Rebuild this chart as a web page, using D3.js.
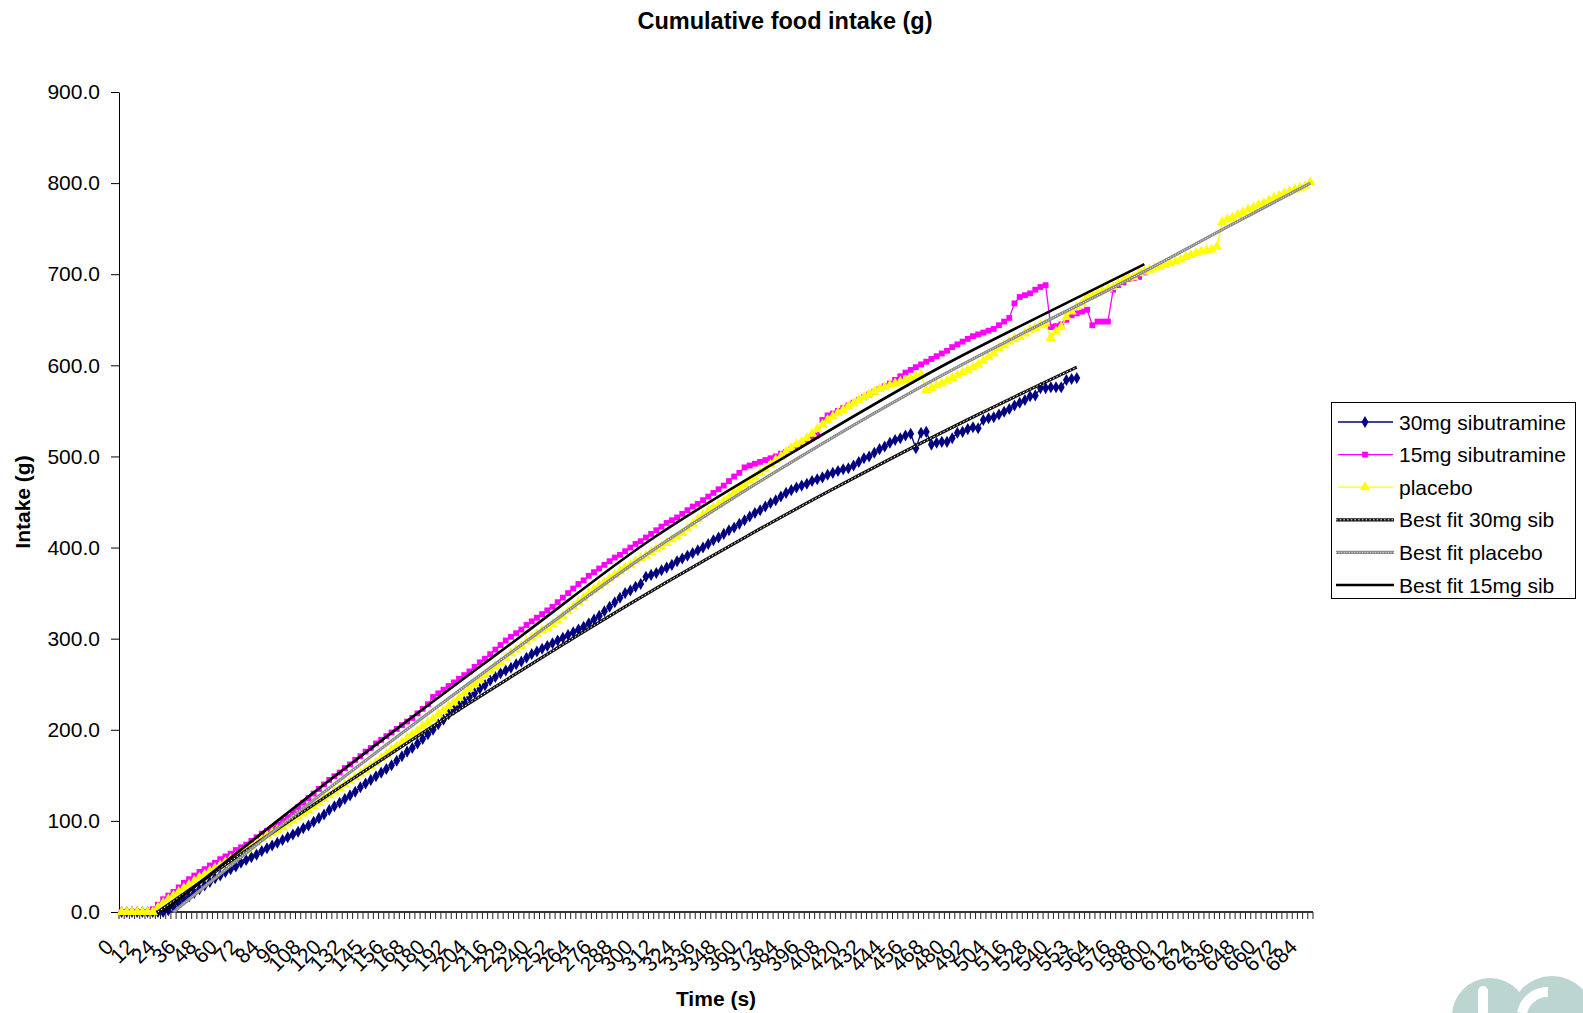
<!DOCTYPE html>
<html>
<head>
<meta charset="utf-8">
<script src="https://cdn.jsdelivr.net/npm/d3@7"></script>
<style>
  body { margin: 0; background: #fff; }
  svg { display: block; font-family: "Liberation Sans", Arial, sans-serif; }
</style>
</head>
<body>
<div id="chart"></div>
<script>
// time in seconds for every category of the x axis
const times = [
  0,3,6,9,12,15,18,21,24,27, 30,33,36,39,42,45,48,51,54,57,
  60,63,66,69,72,75,78,81,84,87, 90,93,96,99,102,105,108,111,114,117,
  120,123,126,129,132,135,138,141,145,147, 150,153,156,159,162,165,168,171,174,177,
  180,183,186,189,192,195,198,201,204,207, 210,213,216,219,222,225,229,231,234,237,
  240,243,246,249,252,255,258,261,264,267, 270,273,276,279,282,285,288,291,294,297,
  300,303,306,309,312,315,318,321,324,327, 330,333,336,339,342,345,348,351,354,357,
  360,363,366,369,372,375,378,381,384,387, 390,393,396,399,402,405,408,411,414,417,
  420,423,426,429,432,435,438,441,444,447, 450,453,456,459,462,465,468,471,474,477,
  480,483,486,489,492,495,498,501,504,507, 510,513,516,519,522,525,528,531,534,537,
  540,543,546,549,553,555,558,561,564,567, 570,573,576,579,582,585,588,591,594,597,
  600,603,606,609,612,615,618,621,624,627, 630,633,636,639,642,645,648,651,654,657,
  660,663,666,669,672,675,678,681,684,687
];
const labelEvery = 4;
const yTicks = [0, 100, 200, 300, 400, 500, 600, 700, 800, 900];

// cumulative intake (g), one value per category
const sib30 = [
  0,0,0,0,0,0,0,0,0,2, 6,10,14,17,21,25,29,33,37,40,
  44,47,50,54,57,60,63,67,70,73, 76,79,82,85,88,92,95,99,103,107,
  112,116,120,124,128,132,137,141,145,149, 153,157,161,166,171,176,180,185,190,195,
  200,206,211,217,222,226,231,236,240,245, 249,254,258,262,265,268,272,275,279,283,
  286,289,292,295,298,301,304,307,310,313, 317,321,325,330,335,340,345,350,353,357,
  360,368,370,372,375,378,381,385,388,391, 394,397,400,404,408,411,415,419,422,426,
  430,434,438,441,445,449,452,456,460,463, 466,468,470,473,475,477,480,482,484,486,
  487,490,494,498,500,504,508,511,515,518, 520,523,525,509,526,527,513,515,516,516,
  520,526,527,530,532,531,540,542,543,546, 549,552,556,559,562,566,567,575,575,576,
  576,576,584,585,586
];
const sib15 = [
  0,0,0,0,0,0,3,8,14,18, 22,27,32,36,40,44,47,51,54,58,
  61,64,68,71,74,78,82,86,89,92, 96,100,104,110,115,120,125,130,135,140,
  145,149,153,158,162,167,171,176,180,185, 189,193,197,201,205,209,213,218,223,228,
  236,240,244,248,252,256,260,264,269,274, 278,283,288,293,298,302,306,310,315,319,
  323,327,331,335,340,345,350,355,360,364, 369,373,377,381,385,389,392,396,400,404,
  407,411,415,419,423,427,430,433,437,441, 445,448,452,456,460,464,468,473,478,482,
  488,490,492,494,496,498,500,503,505,508, 511,514,517,520,523,540,545,547,550,553,
  556,559,562,565,568,571,574,577,580,584, 588,592,595,598,601,604,607,610,613,616,
  620,623,626,629,632,634,636,638,640,644, 648,652,668,675,677,679,683,686,688,642,
  643,645,650,655,657,659,661,644,648,648, 648,683,688,691,695,696,697,702
];
const placebo = [
  0,0,0,0,0,0,0,5,10,14, 18,22,26,30,34,38,41,45,48,51,
  55,58,61,65,68,72,76,80,84,87, 90,93,97,100,104,108,112,116,120,124,
  128,132,136,140,144,148,152,156,160,164, 169,173,178,182,186,191,195,199,204,208,
  212,217,221,226,230,235,240,245,250,255, 260,265,270,274,279,284,288,292,297,301,
  305,309,312,316,320,325,330,335,340,345, 350,354,358,362,366,370,374,378,381,385,
  388,391,395,398,401,405,409,412,416,421, 426,431,436,440,444,447,451,455,460,464,
  468,473,477,482,486,491,496,500,505,509, 513,516,520,525,530,535,540,544,548,551,
  555,558,562,565,568,571,574,576,578,580, 582,584,585,588,590,573,575,578,580,583,
  586,589,592,595,598,601,605,609,613,619, 622,626,629,631,635,639,641,644,646,630,
  637,642,653,659,664,668,675,677,679,682, 684,686,690,694,696,697,701,703,705,707,
  708,710,712,714,716,719,721,723,725,726, 727,730,757,760,762,765,768,771,773,776,
  778,781,784,786,789,791,793,795,797,801
];

// best fit curves read at a few categories: [category index, g]
const fit30 = [[7,0],[15,32],[30,91],[45,148],[60,204],[75,258],[90,311],[105,362],[120,411],[135,458],[150,503],[165,546],[184,598]];
const fitPlacebo = [[10,0],[30,92],[53,192],[77,293],[101,392],[130,497],[159,592],[178,648],[197,703],[213,752],[229,800]];
const fit15 = [[8,0],[30,100],[53,201],[77,303],[101,405],[130,507],[159,602],[178,657],[197,711]];

const width = 1583, height = 1013;
const plot = { left: 119, right: 1313, top: 92, bottom: 912 };

const svg = d3.select("#chart").append("svg")
  .attr("width", width)
  .attr("height", height);

const x = d3.scaleBand()
  .domain(d3.range(times.length))
  .range([plot.left, plot.right])
  .paddingInner(0).paddingOuter(0);
const xc = i => x(i) + x.bandwidth() / 2;

const y = d3.scaleLinear()
  .domain([0, 900])
  .range([plot.bottom, plot.top]);

// title
svg.append("text")
  .attr("x", 785).attr("y", 29)
  .attr("text-anchor", "middle")
  .style("font-size", "23.5px").style("font-weight", "bold")
  .text("Cumulative food intake (g)");

// y axis
const yAxis = svg.append("g")
  .attr("transform", `translate(${plot.left},0)`)
  .call(d3.axisLeft(y).tickValues(yTicks).tickFormat(d3.format(".1f")).tickSize(8).tickPadding(11).tickSizeOuter(0));
yAxis.selectAll("text").style("font-size", "21px").attr("fill", "#000");
yAxis.selectAll("line, path").attr("stroke", "#000");

svg.append("text")
  .attr("transform", `translate(30,${(plot.top + plot.bottom) / 2}) rotate(-90)`)
  .attr("text-anchor", "middle")
  .style("font-size", "21px").style("font-weight", "bold")
  .text("Intake (g)");

// x axis: ticks between categories, a label every 4th category
const xg = svg.append("g");
xg.selectAll("line.tick")
  .data(d3.range(times.length + 1))
  .enter().append("line")
  .attr("x1", i => i < times.length ? x(i) : plot.right)
  .attr("x2", i => i < times.length ? x(i) : plot.right)
  .attr("y1", plot.bottom).attr("y2", plot.bottom + 7)
  .attr("stroke", "#222").attr("stroke-width", 1);
xg.append("line")
  .attr("x1", plot.left).attr("x2", plot.right)
  .attr("y1", plot.bottom).attr("y2", plot.bottom)
  .attr("stroke", "#333").attr("stroke-width", 2);
xg.selectAll("text")
  .data(d3.range(0, times.length, labelEvery))
  .enter().append("text")
  .attr("transform", i => `translate(${xc(i) - 12},943) rotate(-45)`)
  .attr("text-anchor", "end")
  .attr("dy", "0.35em")
  .style("font-size", "21px")
  .text(i => times[i]);

svg.append("text")
  .attr("x", 716).attr("y", 1006)
  .attr("text-anchor", "middle")
  .style("font-size", "21px").style("font-weight", "bold")
  .text("Time (s)");

// data series
const line = d3.line().x((d, i) => xc(i)).y(d => y(d));
const series = [
  { name: "30mg sibutramine", values: sib30, color: "#000080", symbol: d3.symbolDiamond, size: 42 },
  { name: "15mg sibutramine", values: sib15, color: "#FF00FF", symbol: d3.symbolSquare, size: 34 },
  { name: "placebo", values: placebo, color: "#FFFF00", symbol: d3.symbolTriangle, size: 46 }
];

series.forEach(s => {
  const g = svg.append("g");
  g.append("path")
    .attr("d", line(s.values))
    .attr("fill", "none").attr("stroke", s.color).attr("stroke-width", 1.3);
  g.selectAll("path.m")
    .data(s.values)
    .enter().append("path")
    .attr("class", "m")
    .attr("transform", (d, i) => `translate(${xc(i)},${y(d)})`)
    .attr("d", d3.symbol().type(s.symbol).size(s.size))
    .attr("fill", s.color);
});

// best fit lines
const fitLine = d3.line().x(d => xc(d[0])).y(d => y(d[1])).curve(d3.curveMonotoneX);
const fits = [
  { name: "Best fit 30mg sib", pts: fit30, color: "#111", w: 3.2, tex: "#fff", dash: "1.5,2.2" },
  { name: "Best fit placebo", pts: fitPlacebo, color: "#8a8a8a", w: 3.2, tex: "#e8e8e8", dash: "1,1.6" },
  { name: "Best fit 15mg sib", pts: fit15, color: "#000", w: 2.6, tex: null }
];
fits.forEach(f => {
  svg.append("path").attr("d", fitLine(f.pts))
    .attr("fill", "none").attr("stroke", f.color).attr("stroke-width", f.w);
  if (f.tex) {
    svg.append("path").attr("d", fitLine(f.pts))
      .attr("fill", "none").attr("stroke", f.tex).attr("stroke-width", 1)
      .attr("stroke-dasharray", f.dash);
  }
});

// legend
const lg = svg.append("g");
lg.append("rect")
  .attr("x", 1331.5).attr("y", 402.5).attr("width", 244).attr("height", 196)
  .attr("fill", "#fff").attr("stroke", "#000").attr("stroke-width", 1);
const rowY = d3.scalePoint().domain(d3.range(6)).range([422, 585]);
const entries = series.map(s => ({ ...s, kind: "s" })).concat(fits.map(f => ({ ...f, kind: "f" })));
entries.forEach((e, k) => {
  const yy = rowY(k);
  if (e.kind === "s") {
    lg.append("line").attr("x1", 1338).attr("x2", 1393).attr("y1", yy).attr("y2", yy)
      .attr("stroke", e.color).attr("stroke-width", 1.3);
    lg.append("path").attr("transform", `translate(1365,${yy})`)
      .attr("d", d3.symbol().type(e.symbol).size(e.size)).attr("fill", e.color);
  } else {
    lg.append("line").attr("x1", 1336).attr("x2", 1394).attr("y1", yy).attr("y2", yy)
      .attr("stroke", e.color).attr("stroke-width", e.w);
    if (e.tex) {
      lg.append("line").attr("x1", 1336).attr("x2", 1394).attr("y1", yy).attr("y2", yy)
        .attr("stroke", e.tex).attr("stroke-width", 1).attr("stroke-dasharray", e.dash);
    }
  }
  lg.append("text").attr("x", 1399).attr("y", yy + 7.5)
    .style("font-size", "21px").text(e.name);
});

// corner logo fragment
const logo = svg.append("g");
logo.append("circle").attr("cx", 1490).attr("cy", 1016).attr("r", 38).attr("fill", "#bcd5d1");
logo.append("circle").attr("cx", 1552).attr("cy", 1018).attr("r", 42).attr("fill", "#bcd5d1");
logo.append("rect").attr("x", 1478).attr("y", 986).attr("width", 10).attr("height", 30).attr("rx", 5).attr("fill", "#fff");
logo.append("path").attr("d", "M1548,992 A26,26 0 0,0 1522,1013").attr("fill", "none").attr("stroke", "#fff").attr("stroke-width", 10);
</script>
</body>
</html>
